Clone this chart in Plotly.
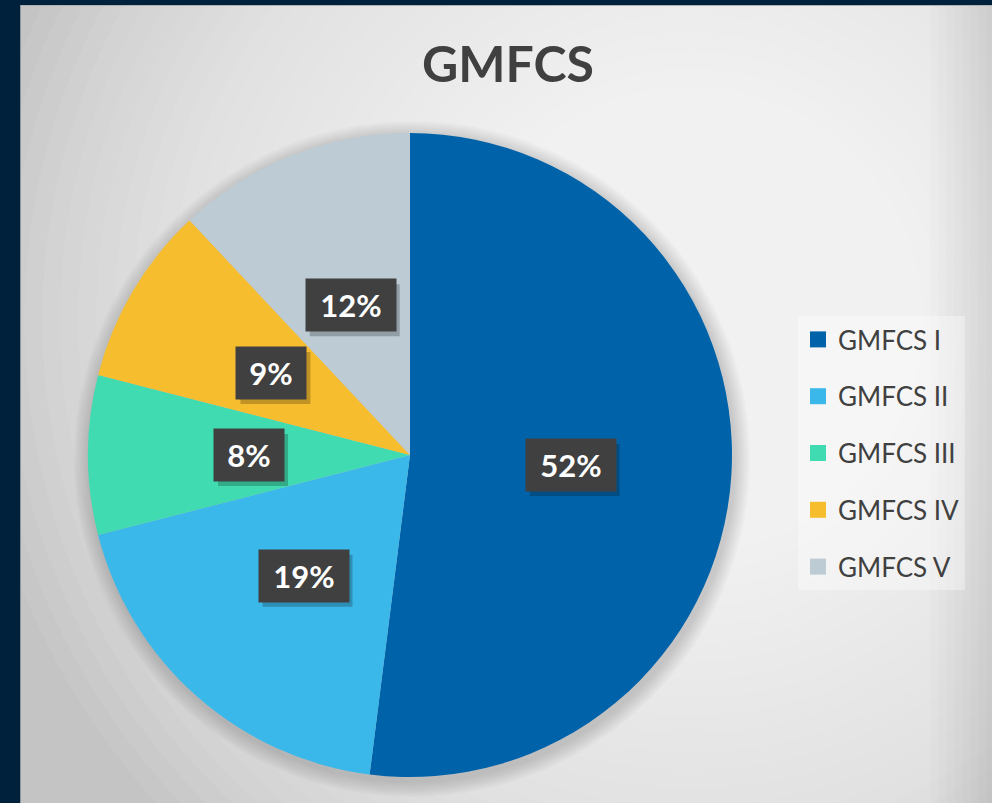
"""GMFCS distribution pie chart."""

import math
import plotly.graph_objects as go

W, H = 992, 803

labels = ["GMFCS I", "GMFCS II", "GMFCS III", "GMFCS IV", "GMFCS V"]
values = [52, 19, 8, 9, 12]
colors = ["#0063aa", "#3bb8ea", "#40dbb0", "#f6bd2f", "#bccbd4"]

# pie geometry in window pixels
CX, CY, R = 410, 455, 322


def px(x):
    return x / W


def py(y):
    return (H - y) / H


def circle(cx, cy, r, fill):
    return dict(
        type="circle", xref="paper", yref="paper", layer="below",
        x0=px(cx - r), x1=px(cx + r), y0=py(cy + r), y1=py(cy - r),
        fillcolor=fill, line=dict(width=0),
    )


def rect(x0, x1, y0, y1, fill, layer="below"):
    return dict(
        type="rect", xref="paper", yref="paper", layer=layer,
        x0=px(x0), x1=px(x1), y0=py(y1), y1=py(y0),
        fillcolor=fill, line=dict(width=0),
    )


fig = go.Figure()

fig.add_trace(go.Pie(
    labels=labels,
    values=values,
    sort=False,
    direction="clockwise",
    rotation=0,
    marker=dict(colors=colors, line=dict(width=0)),
    textinfo="none",
    hoverinfo="label+percent",
    showlegend=False,
    domain=dict(x=[px(CX - R), px(CX + R)], y=[py(CY + R), py(CY - R)]),
))

# legend entries
for lab, col in zip(labels, colors):
    fig.add_trace(go.Scatter(
        x=[None], y=[None], mode="markers", name=lab, legendgroup=lab,
        marker=dict(symbol="square", size=17, color=col),
    ))

# background: light panel with a soft radial highlight, dark frame
shapes = [rect(-20, 1100, -20, 900, "#c4c4c4")]
n = 40
for i in range(n):
    r = 720 * (1 - i / n)
    shapes.append(circle(690, 320, r, "rgba(255,255,255,0.062)"))
# darker band along the right edge
for i in range(8):
    shapes.append(rect(930 + i * 8, 1100, -20, 900, "rgba(0,0,0,0.012)"))
# pie shadow
for d in range(2, 18, 2):
    shapes.append(circle(CX + 2, CY + 4, R + d, "rgba(0,0,0,0.018)"))
shapes += [
    rect(-20, 20, -20, 900, "#00213b"),
    rect(-20, 1100, -20, 5, "#00213b"),
    dict(type="line", xref="paper", yref="paper", layer="below",
         x0=px(20), x1=px(1100), y0=py(5.5), y1=py(5.5),
         line=dict(color="#b0b0b0", width=1)),
    dict(type="line", xref="paper", yref="paper", layer="below",
         x0=px(20.5), x1=px(20.5), y0=py(900), y1=py(5),
         line=dict(color="#8a96a0", width=1)),
]

# percentage labels in dark boxes at half radius of each slice
annotations = []
total = sum(values)
cum = 0
for v in values:
    mid = (cum + v / 2) / total * 2 * math.pi
    cum += v
    lx = CX + 0.5 * R * math.sin(mid)
    ly = CY - 0.5 * R * math.cos(mid)
    txt = f"{round(v / total * 100)}%"
    w = 20 * len(txt) + 22
    # drop shadow of the label box
    sx, sy = lx + 4, ly + 5
    shapes.append(rect(sx - w / 2 - 4, sx + w / 2 + 4, sy - 26, sy + 26,
                       "rgba(0,0,0,0.22)", layer="above"))
    annotations.append(dict(
        x=px(lx), y=py(ly), xref="paper", yref="paper", showarrow=False,
        xanchor="center", yanchor="middle", width=w, height=44, borderpad=4,
        text=f"<b>{txt}</b>",
        font=dict(size=31, color="white", family="Lato"),
        bgcolor="#404040",
    ))

fig.update_layout(
    width=W,
    height=H,
    paper_bgcolor="#00213b",
    plot_bgcolor="rgba(0,0,0,0)",
    margin=dict(l=0, r=0, t=0, b=0),
    title=dict(
        text="<b>GMFCS</b>", x=px(508), xanchor="center", y=py(64), yanchor="middle",
        font=dict(size=50, color="#404040", family="Lato"),
    ),
    xaxis=dict(visible=False),
    yaxis=dict(visible=False),
    shapes=shapes,
    annotations=annotations,
    legend=dict(
        x=px(798), xanchor="left", y=py(316), yanchor="top",
        bgcolor="rgba(255,255,255,0.35)",
        font=dict(size=26, color="#404040", family="Lato"),
        tracegroupgap=20,
        itemclick=False,
    ),
)

fig.write_html(
    "out.html",
    config={"displayModeBar": False},
    post_script="document.body.style.margin='0';document.body.style.background='#00213b';",
)
